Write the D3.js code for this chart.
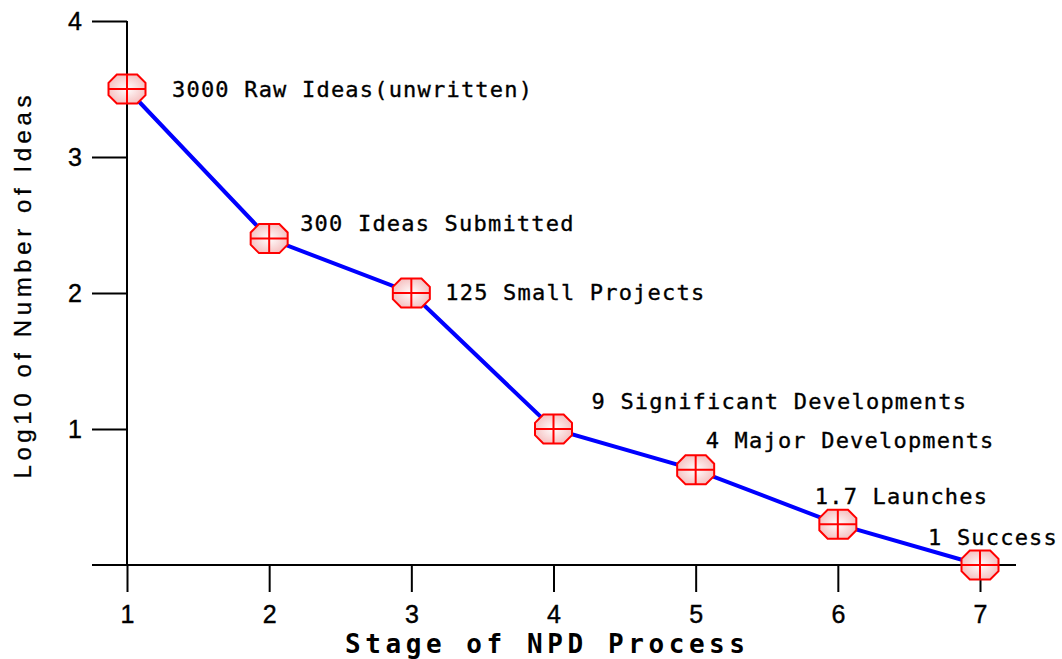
<!DOCTYPE html>
<html>
<head>
<meta charset="utf-8">
<script src="https://cdn.jsdelivr.net/npm/d3@7"></script>
<style>
  html, body { margin: 0; padding: 0; background: #fff; }
  svg { display: block; }
</style>
</head>
<body>
<svg id="chart" width="1062" height="659"></svg>
<script>
// ---- data ----
const stages = [1, 2, 3, 4, 5, 6, 7];
const log10Ideas = [3.5, 2.4, 2.0, 1.0, 0.7, 0.3, 0.0];
const pointLabels = [
  "3000 Raw Ideas(unwritten)",
  "300 Ideas Submitted",
  "125 Small Projects",
  "9 Significant Developments",
  "4 Major Developments",
  "1.7 Launches",
  "1 Success"
];
const xTicks = [1, 2, 3, 4, 5, 6, 7];
const yTicks = [1, 2, 3, 4];
const xTitle = "Stage of NPD Process";
const yTitle = "Log10 of Number of Ideas";

// ---- layout (label placement relative to each marker) ----
const labelOffsets = [[45, 0], [31, -16], [34, -1], [38, -28], [10, -30], [-23, -28], [-52, -28]];

const svg = d3.select("#chart");
const x = d3.scaleLinear().domain([1, 7]).range([127, 980]);
const y = d3.scaleLinear().domain([0, 4]).range([565, 21]);

const defs = svg.append("defs");
const grad = defs.append("radialGradient").attr("id", "mk");
grad.append("stop").attr("offset", "0%").attr("stop-color", "#ffffff");
grad.append("stop").attr("offset", "100%").attr("stop-color", "#f6c4c4");

// x axis baseline (extends left of y axis)
svg.append("line").attr("x1", 92).attr("x2", 1016).attr("y1", y(0)).attr("y2", y(0))
  .attr("stroke", "#000").attr("stroke-width", 2);
// y axis
svg.append("line").attr("x1", x(1)).attr("x2", x(1)).attr("y1", y(4)).attr("y2", y(0))
  .attr("stroke", "#000").attr("stroke-width", 2);

// x axis ticks & labels
const xAxis = d3.axisBottom(x).tickValues(xTicks).tickSize(27).tickPadding(13).tickFormat(d3.format("d"));
const gx = svg.append("g").attr("transform", `translate(0,${y(0)})`).call(xAxis);
gx.select(".domain").remove();
gx.selectAll(".tick line").attr("stroke", "#000").attr("stroke-width", 2);
gx.selectAll(".tick text").attr("font-family", "Liberation Sans, Arial, sans-serif")
  .attr("font-size", 25).attr("fill", "#000").attr("stroke", "#000").attr("stroke-width", 0.4)
  .attr("dy", "0.71em");

// y axis ticks & labels
const yAxis = d3.axisLeft(y).tickValues(yTicks).tickSize(35).tickPadding(10).tickFormat(d3.format("d"));
const gy = svg.append("g").attr("transform", `translate(${x(1)},0)`).call(yAxis);
gy.select(".domain").remove();
gy.selectAll(".tick line").attr("stroke", "#000").attr("stroke-width", 2);
gy.selectAll(".tick text").attr("font-family", "Liberation Sans, Arial, sans-serif")
  .attr("font-size", 25).attr("fill", "#000").attr("stroke", "#000").attr("stroke-width", 0.4);

// line
const data = stages.map((s, i) => ({ s, v: log10Ideas[i], label: pointLabels[i], off: labelOffsets[i] }));
svg.append("path").datum(data)
  .attr("d", d3.line().x(d => x(d.s)).y(d => y(d.v)))
  .attr("fill", "none").attr("stroke", "#0000ff").attr("stroke-width", 4);

// markers: octagon with cross
const rx = 18.5, ry = 14.5;
const octPts = [[-rx, -ry*0.42], [-rx*0.55, -ry], [rx*0.55, -ry], [rx, -ry*0.42], [rx, ry*0.42], [rx*0.55, ry], [-rx*0.55, ry], [-rx, ry*0.42]];
const mk = svg.append("g").selectAll("g").data(data).join("g")
  .attr("transform", d => `translate(${x(d.s)},${y(d.v)})`);
mk.append("polygon").attr("points", octPts.map(p => p.join(",")).join(" "))
  .attr("fill", "url(#mk)").attr("stroke", "#ff0000").attr("stroke-width", 2);
mk.append("line").attr("x1", -rx).attr("x2", rx).attr("y1", 0).attr("y2", 0)
  .attr("stroke", "#ff0000").attr("stroke-width", 2);
mk.append("line").attr("x1", 0).attr("x2", 0).attr("y1", -ry).attr("y2", ry)
  .attr("stroke", "#ff0000").attr("stroke-width", 2);

// point labels
svg.append("g").selectAll("text").data(data).join("text")
  .attr("x", d => x(d.s) + d.off[0])
  .attr("y", d => y(d.v) + d.off[1])
  .attr("dy", "0.36em")
  .attr("font-family", "DejaVu Sans Mono, monospace")
  .attr("font-size", 22)
  .attr("letter-spacing", 1.2)
  .attr("fill", "#000").attr("stroke", "#000").attr("stroke-width", 0.35)
  .text(d => d.label);

// axis titles
svg.append("text").attr("x", 545).attr("y", 653).attr("text-anchor", "middle")
  .attr("font-family", "DejaVu Sans Mono, monospace").attr("font-weight", "bold")
  .attr("font-size", 26).attr("textLength", 400).attr("lengthAdjust", "spacing")
  .attr("fill", "#000").text(xTitle);

svg.append("text").attr("transform", "translate(31,287) rotate(-90)")
  .attr("text-anchor", "middle")
  .attr("font-family", "Liberation Sans, Arial, sans-serif")
  .attr("font-size", 24).attr("textLength", 383).attr("lengthAdjust", "spacing")
  .attr("fill", "#000").attr("stroke", "#000").attr("stroke-width", 0.3).text(yTitle);
</script>
</body>
</html>
